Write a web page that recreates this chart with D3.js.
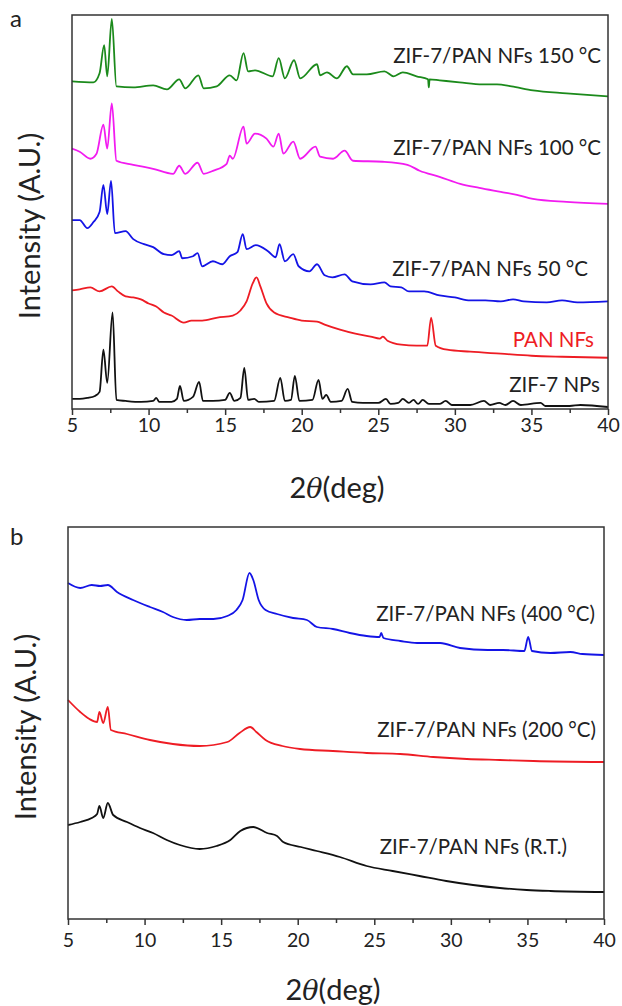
<!DOCTYPE html>
<html>
<head>
<meta charset="utf-8">
<script src="https://cdn.jsdelivr.net/npm/d3@7"></script>
<style>
  body { margin: 0; background: #fff; }
  text { font-family: Lato, "Open Sans", sans-serif; fill: #222; }
</style>
</head>
<body>
<script>
/* CONSTANTS AND GLOBALS */
const width = 622;
const height = 1006;

// tick labels shared by both panels
const majorTicks = [5, 10, 15, 20, 25, 30, 35, 40];
const minorTicks = [7.5, 12.5, 17.5, 22.5, 27.5, 32.5, 37.5];

/* DATA - [2theta, intensity (A.U.)] */
// panel a
const zif7NPs = [[5,10],[5.5,10],[6,11],[6.5,13],[6.8,17],[7.05,59],[7.3,26],[7.65,96],[7.9,9],[8.5,8],[9.5,7],[10.3,8],[10.5,11],[10.7,7],[11.5,7],[11.85,10],[12.05,23],[12.3,8],[12.9,12],[13.3,27],[13.55,8],[14.2,8],[15.0,9],[15.3,16],[15.6,8],[16.0,11],[16.25,41],[16.5,9],[16.9,10],[17.2,7],[18.2,8],[18.6,31],[18.9,8],[19.3,9],[19.55,33],[19.85,8],[20.7,9],[21.1,29],[21.35,10],[21.6,14],[21.9,7],[22.6,8],[23.0,20],[23.3,7],[24.0,6],[25.0,6],[25.5,10],[25.8,5],[26.3,6],[26.6,10],[27.0,6],[27.3,9],[27.6,5],[27.9,9],[28.3,5],[29.0,5],[29.4,8],[29.8,4],[31.0,4],[31.9,8],[32.3,4],[32.9,6],[33.3,4],[33.8,8],[34.3,4],[35.6,6],[35.9,3],[37.5,3],[38.2,4],[40,2]];
const panNFs = [[5,118],[5.5,119],[6.2,121],[6.8,117],[7.6,122],[8.0,117],[8.5,112],[9.0,111],[9.5,109],[10.0,105],[10.5,102],[11.0,96],[11.5,93],[12.3,86],[12.8,88],[13.5,88],[14.5,91],[15.5,93],[16.0,98],[16.4,107],[16.8,125],[17.05,131],[17.3,122],[17.7,105],[18.2,96],[19.2,91],[20,88],[21,87],[21.5,84],[22.5,79],[23.5,75],[24.5,72],[25.1,70],[25.3,72],[25.6,68],[26.5,64],[27.5,63],[28.2,63],[28.45,91],[28.75,63],[29.5,59],[31,57],[33,55],[35,53],[37,52],[40,51]];
const nfs50 = [[5,188],[5.5,188],[6.0,180],[6.4,186],[6.8,196],[7.05,223],[7.3,194],[7.55,227],[7.8,175],[8.5,177],[9.0,169],[9.7,164],[10.3,161],[11.0,154],[11.5,153],[12.0,157],[12.2,150],[12.9,152],[13.2,155],[13.5,142],[14.2,147],[14.8,144],[15.3,152],[15.8,156],[16.15,174],[16.4,159],[17.0,163],[17.8,157],[18.3,151],[18.55,164],[18.9,147],[19.45,154],[19.8,142],[20.5,137],[21.0,144],[21.5,133],[22.0,131],[22.8,134],[23.3,127],[24.5,124],[25.4,126],[25.8,122],[26.5,121],[27,117],[28,117],[29,113],[30,111],[31,108],[32,108],[33,107],[33.8,109],[34.5,107],[36,106],[37,108],[38,106],[40,107]];
const nfs100 = [[5,259],[5.5,256],[6.2,249],[6.6,254],[7.05,283],[7.3,259],[7.6,304],[7.9,247],[9.0,243],[10.3,239],[11.6,234],[12.0,242],[12.4,234],[13.2,245],[13.6,234],[14.2,237],[15.1,244],[15.3,252],[15.5,249],[16.2,281],[16.4,264],[16.95,274],[17.7,269],[18.15,261],[18.5,274],[18.8,254],[19.45,266],[19.9,249],[20.9,261],[21.2,251],[22.05,249],[22.8,257],[23.35,247],[25.3,246],[26.9,243],[27.7,237],[29.0,231],[30.35,224],[31.6,220],[33.0,216],[34.05,213],[35.1,209],[37.3,206],[40,204]];
const nfs150 = [[5,326],[6.4,325],[6.8,334],[7.1,362],[7.3,331],[7.6,388],[7.9,321],[9.0,320],[10.3,322],[11.2,318],[12.0,328],[12.4,319],[13.25,332],[13.6,319],[14.45,321],[15.3,332],[15.75,327],[16.2,354],[16.5,336],[16.95,337],[18.1,331],[18.5,349],[18.9,329],[19.5,347],[19.9,329],[21.0,343],[21.2,332],[21.65,335],[22.3,329],[22.95,341],[23.35,333],[24.25,333],[25.4,336],[26.0,331],[26.6,335],[27.5,331],[28.25,328],[28.3,320],[28.35,328],[29.0,327],[30.3,325],[31.8,323],[32.75,323],[33.7,321],[35.1,317],[37.3,314],[40,311]];

// panel b
const nfsRT = [[5,94],[5.8,97],[6.55,101],[6.9,105],[7.05,113],[7.3,101],[7.6,116],[7.95,104],[8.85,97],[9.7,91],[10.55,86],[11.45,79],[12.3,74],[13.6,70],[14.7,73],[15.6,79],[16.25,88],[17.1,92],[18.0,86],[18.65,83],[19.05,77],[20.2,72],[21.25,68],[22.75,62],[24.5,53],[26.2,48],[27.95,43],[29.7,38],[31.45,34],[33.2,31],[34.95,29],[36.5,28],[40,27]];
const nfs200 = [[5,219],[5.8,207],[6.4,200],[6.9,197],[7.05,207],[7.3,196],[7.6,212],[7.8,189],[8.85,185],[10.35,179],[11.85,175],[13.6,173],[15.4,177],[16.2,186],[16.9,192],[17.3,187],[17.9,179],[19.0,173],[20.15,170],[22.3,168],[24.5,166],[26.7,165],[28.85,162],[31.05,160],[33.2,159],[35.4,158],[40,157]];
const nfs400 = [[5,336],[5.8,331],[6.55,334],[7.1,333],[7.6,334],[8.2,327],[9.25,319],[10.35,312],[11.2,307],[11.85,302],[12.75,299],[13.6,300],[14.5,300],[15.4,303],[16.0,309],[16.4,319],[16.85,346],[17.1,339],[17.45,319],[17.9,309],[18.65,305],[19.7,301],[20.6,299],[21.25,292],[22.3,290],[23.4,286],[24.5,283],[25.35,282],[25.45,286],[25.6,281],[26.7,278],[27.8,276],[29.3,276],[30.6,271],[32.4,269],[33.4,269],[34.8,268],[35.05,282],[35.3,268],[36.5,266],[37.8,267],[38.6,265],[40,264]];

// series names, colours, label intensity
const seriesA = [
  { name: "ZIF-7 NPs", values: zif7NPs, color: "#111111", textColor: "#222", labelY: 24 },
  { name: "PAN NFs", values: panNFs, color: "#ee1c24", textColor: "#ee1c24", labelY: 69 },
  { name: "ZIF-7/PAN NFs 50 °C", values: nfs50, color: "#1414e6", textColor: "#222", labelY: 139 },
  { name: "ZIF-7/PAN NFs 100 °C", values: nfs100, color: "#f21bf0", textColor: "#222", labelY: 260 },
  { name: "ZIF-7/PAN NFs 150 °C", values: nfs150, color: "#1b8a1b", textColor: "#222", labelY: 351 }
];
const seriesB = [
  { name: "ZIF-7/PAN NFs (R.T.)", values: nfsRT, color: "#111111", textColor: "#222", labelY: 72 },
  { name: "ZIF-7/PAN NFs (200 °C)", values: nfs200, color: "#ee1c24", textColor: "#222", labelY: 189 },
  { name: "ZIF-7/PAN NFs (400 °C)", values: nfs400, color: "#1414e6", textColor: "#222", labelY: 305 }
];

/* CREATE SVG */
const svg = d3.select("body").append("svg")
  .attr("width", width)
  .attr("height", height);

function drawPanel(box, series, letter, labelRight) {
  const x = d3.scaleLinear().domain([5, 40]).range([box.left, box.right]);
  const y = d3.scaleLinear().domain([0, 392]).range([box.bottom, box.top]);

  // LINES
  const line = d3.line().x(d => x(d[0])).y(d => y(d[1])).curve(d3.curveMonotoneX);
  svg.append("g").selectAll("path")
    .data(series)
    .enter()
    .append("path")
    .attr("d", d => line(d.values))
    .attr("fill", "none")
    .attr("stroke", d => d.color)
    .attr("stroke-width", 1.8)
    .attr("stroke-linejoin", "round");

  // SERIES LABELS
  svg.append("g").selectAll("text")
    .data(series)
    .enter()
    .append("text")
    .attr("x", d => labelRight[d.name])
    .attr("y", d => y(d.labelY))
    .attr("dy", "0.35em")
    .attr("text-anchor", "end")
    .attr("font-size", 20.5)
    .style("fill", d => d.textColor)
    .text(d => d.name);

  // FRAME
  svg.append("rect")
    .attr("x", box.left).attr("y", box.top)
    .attr("width", box.right - box.left).attr("height", box.bottom - box.top)
    .attr("fill", "none").attr("stroke", "#333").attr("stroke-width", 1.5);

  // X AXIS - major and minor ticks, both outward
  const xAxis = d3.axisBottom(x).tickValues(majorTicks).tickSize(6).tickPadding(box.pad).tickFormat(d3.format("d"));
  const gx = svg.append("g")
    .attr("transform", "translate(0," + box.bottom + ")")
    .call(xAxis);
  gx.select(".domain").remove();
  gx.selectAll("line").attr("stroke", "#333").attr("stroke-width", 1.5);
  gx.selectAll("text").attr("font-size", 19.5).attr("font-family", "Lato, sans-serif").style("fill", "#222");

  const gm = svg.append("g")
    .attr("transform", "translate(0," + box.bottom + ")")
    .call(d3.axisBottom(x).tickValues(minorTicks).tickSize(4).tickFormat(""));
  gm.select(".domain").remove();
  gm.selectAll("line").attr("stroke", "#333").attr("stroke-width", 1.5);

  // X LABEL
  const xl = svg.append("text")
    .attr("x", (box.left + box.right) / 2 - 3)
    .attr("y", box.bottom + box.xlab)
    .attr("text-anchor", "middle")
    .attr("font-size", 29);
  xl.append("tspan").text("2");
  xl.append("tspan").attr("font-family", "DejaVu Serif, serif").attr("font-style", "italic").attr("font-size", 27).text("θ");
  xl.append("tspan").text("(deg)");

  // Y LABEL
  svg.append("text")
    .attr("transform", "translate(" + (box.left - 32) + "," + ((box.top + box.bottom) / 2 + box.ylab) + ") rotate(-90)")
    .attr("text-anchor", "middle")
    .attr("font-size", 29)
    .text("Intensity (A.U.)");

  // PANEL LETTER
  svg.append("text")
    .attr("x", 10)
    .attr("y", box.letterY)
    .attr("font-size", 24)
    .text(letter);
}

drawPanel({ left: 72, right: 608, top: 15, bottom: 409, pad: 3, xlab: 89, ylab: 14, letterY: 27 }, seriesA, "a", {
  "ZIF-7 NPs": 600, "PAN NFs": 594, "ZIF-7/PAN NFs 50 °C": 588,
  "ZIF-7/PAN NFs 100 °C": 601, "ZIF-7/PAN NFs 150 °C": 601
});
drawPanel({ left: 68, right: 604, top: 527, bottom: 919, pad: 8, xlab: 81, ylab: 4, letterY: 545 }, seriesB, "b", {
  "ZIF-7/PAN NFs (R.T.)": 567, "ZIF-7/PAN NFs (200 °C)": 596, "ZIF-7/PAN NFs (400 °C)": 595
});
</script>
</body>
</html>
